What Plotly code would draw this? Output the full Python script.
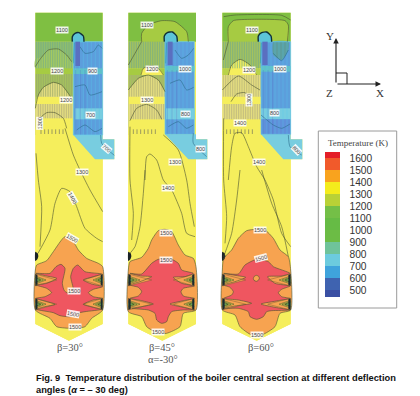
import plotly.graph_objects as go

# ---- Units: one third of a picture pixel. Panel 1 uses frame A, panels 2 and 3 use frame B.
W, H = 420, 396
GREEN = "#7FBF42"; LIME = "#A6CB42"; YEL = "#F5EE5C"; ORG = "#F7A350"; RED = "#EF5660"
HGRN = "#90BE6C"; HYEL = "#E4DD80"; HLIME = "#A5C25E"; BLUE = "#5C9EDC"; CYAN = "#78CDE0"
NOZ = "#5A6FC0"; DARK = "#4A5230"; DEEP = "#2C6C8C"

# ---- Panel outlines
P1_OUT = [(16,38),(218,38),(218,418),(253,418),(253,478),(218,478),(218,972),(117,1022),(16,972)]
P2_OUT = [(10,38),(213,38),(213,418),(247,418),(247,478),(213,478),(213,972),(112,1022),(10,972)]
P3_OUT = [(292,38),(497,38),(497,418),(532,418),(532,478),(497,478),(497,972),(395,1022),(292,972)]

# ---- Panel 1 regions
P1_TOP = [(16,38),(218,38),(218,125),(16,125)]
P1_H1 = [(16,125),(130,125),(130,205),(16,205)]
P1_DOME1 = [(16,205),(16,178),(35,170),(55,150),(85,147),(110,165),(130,188),(130,205)]
P1_BAND1 = [(16,205),(130,205),(130,222),(16,222)]
P1_H2 = [(16,222),(130,222),(130,405),(16,405)]
P1_DOME2 = [(16,325),(25,285),(40,262),(70,247),(95,255),(125,295),(130,312),(130,405),(16,405)]
P1_BAND2 = [(22,290),(130,292),(130,312),(16,312)]
P1_BASE = [(22,355),(130,355),(130,405),(218,478),(218,972),(117,1022),(16,972),(16,390)]
P1_BLUE = [(130,125),(218,125),(218,405),(130,405)]
P1_B1 = [(130,205),(218,205),(218,222),(130,222)]
P1_B2 = [(135,325),(218,325),(218,358),(135,358)]
P1_SHELF = [(130,405),(218,405),(218,418),(253,418),(253,478),(195,478)]
P1_NOZ = [(136,125),(150,125),(150,198),(136,198)]
P1_CAP = [(127,125),(127,110),(135,100),(147,98),(160,108),(162,125)]
P1_ORG = [(105,710),(70,755),(50,782),(20,795),(16,810),(16,930),(60,955),(80,980),(130,985),(165,980),(185,955),(218,930),(218,800),(205,790),(170,775),(145,750),(130,725)]
P1_RED = [(18,820),(60,820),(78,800),(93,793),(105,805),(97,850),(103,872),(120,882),(130,870),(122,830),(130,805),(143,795),(165,815),(215,822),(190,830),(160,840),(185,852),(218,860),(190,868),(175,878),(190,890),(218,895),(190,900),(160,913),(190,922),(215,928),(165,935),(140,940),(120,950),(90,947),(70,938),(20,928),(45,920),(75,913),(50,905),(18,895),(45,890),(65,878),(50,865),(18,855),(50,850),(80,835),(50,828)]
P1_L = [
 [(16,200),(30,178),(55,150),(85,147),(110,165),(125,185)],
 [(16,325),(25,285),(40,262),(70,247),(95,255),(125,295)],
 [(22,385),(30,355),(50,338),(75,338),(100,355),(110,385)],
 [(105,385),(130,465),(150,510),(180,570),(218,635)],
 [(18,460),(25,540),(35,620),(30,740)],
 [(24,760),(60,690),(75,610),(95,565),(120,575),(140,620),(165,685),(200,715),(218,725)],
]
P1_LB = [
 [(212,405),(215,430),(240,455),(253,466)],
 [(150,140),(165,160),(190,155),(205,135),(216,145)],
 [(135,260),(165,255),(180,285),(216,275)],
 [(140,390),(165,375),(195,395),(216,385)],
]
P1_LAB = [("1100",96,89,0),("1200",82,214,0),("900",186,214,0),("1200",108,300,0),("700",180,345,0),("1300",30,370,-90),("700",228,445,40),("1300",157,515,0),("1400",127,595,60),("1500",125,715,30),("1500",133,873,0),("1500",130,942,10),("1500",135,980,0)]

# ---- Panel 2 regions
P2_TOP = [(10,38),(213,38),(213,125),(10,125)]
P2_ARCH = [(50,125),(50,100),(70,75),(110,62),(150,65),(185,95),(190,125)]
P2_H1 = [(10,125),(120,125),(120,205),(10,205)]
P2_DOME1 = [(48,225),(55,205),(80,197),(100,205),(115,225)]
P2_BAND1 = [(10,205),(120,205),(120,225),(10,225)]
P2_H2 = [(10,225),(120,225),(120,405),(10,405)]
P2_DOME2 = [(10,270),(40,235),(70,225),(100,240),(120,275),(120,405),(10,405)]
P2_BAND2 = [(12,290),(120,290),(120,312),(12,312)]
P2_BASE = [(15,358),(120,358),(120,403),(190,478),(213,478),(213,972),(112,1022),(10,972),(10,390)]
P2_BLUE = [(120,125),(208,125),(208,403),(120,403)]
P2_B1 = [(120,198),(208,198),(208,215),(120,215)]
P2_B2 = [(123,325),(208,325),(208,358),(123,358)]
P2_SHELF = [(120,403),(213,403),(213,418),(247,418),(247,478),(190,478)]
P2_NOZ = [(128,125),(143,125),(143,195),(128,195)]
P2_CAP = [(118,125),(118,108),(127,98),(142,96),(155,108),(157,125)]
P2_ORG = [(100,692),(80,720),(70,745),(50,772),(15,785),(10,810),(10,935),(50,950),(65,980),(100,1000),(125,1000),(165,980),(175,940),(213,930),(213,800),(205,775),(180,765),(160,735),(140,695),(120,688)]
P2_RED = [(15,820),(50,822),(80,790),(100,778),(140,778),(160,790),(170,810),(205,820),(180,830),(145,832),(170,850),(208,858),(175,865),(168,875),(175,888),(208,895),(175,902),(135,912),(175,922),(208,930),(175,930),(140,935),(130,950),(125,965),(110,970),(95,960),(90,940),(70,930),(20,925),(50,920),(85,912),(50,902),(15,895),(40,888),(50,875),(40,862),(15,855),(45,845),(80,830),(50,828)]
P2_L = [
 [(50,125),(50,100),(70,75),(110,62),(150,65),(185,95),(190,125)],
 [(10,195),(30,160),(50,125)],
 [(48,225),(55,205),(80,197),(100,205),(115,225)],
 [(10,270),(40,235),(70,225),(100,240),(120,275)],
 [(15,362),(35,325),(65,313),(95,330),(110,358)],
 [(15,380),(15,540),(25,640),(20,720)],
 [(60,540),(65,470),(75,462),(95,480),(115,540),(140,570),(170,640),(185,700),(210,710)],
 [(115,405),(160,450),(185,540),(195,610),(208,680)],
 [(60,510),(55,580),(45,680),(30,740),(15,760)],
]
P2_LB = [
 [(205,400),(205,430),(245,470)],
 [(150,150),(170,175),(190,165),(206,145)],
 [(135,250),(165,240),(185,270),(206,262)],
 [(130,380),(160,365),(185,385),(205,375)],
]
P2_LAB = [("1100",66,76,0),("1200",82,208,0),("1000",180,207,0),("1300",66,300,0),("800",180,342,0),("800",225,446,0),("1300",150,485,0),("1400",128,563,0),("1500",122,700,0),("1500",122,780,0),("1500",98,995,0)]

# ---- Panel 3 regions
P3_TOP = [(292,38),(497,38),(497,125),(292,125)]
P3_ARCH = [(310,125),(310,80),(325,62),(380,58),(480,62),(490,75),(487,125)]
P3_H1 = [(292,125),(408,125),(408,205),(292,205)]
P3_DOME1 = [(310,225),(320,195),(345,178),(375,195),(395,225)]
P3_BAND1 = [(292,205),(408,205),(408,225),(292,225)]
P3_H2 = [(292,225),(408,225),(408,405),(292,405)]
P3_BASE = [(296,358),(408,358),(408,405),(475,478),(497,478),(497,972),(395,1022),(292,972),(292,390)]
P3_BAND2 = [(292,290),(408,290),(408,312),(292,312)]
P3_BLUE = [(408,125),(497,125),(497,403),(408,403)]
P3_B1 = [(408,198),(497,198),(497,215),(408,215)]
P3_B2 = [(408,325),(497,325),(497,358),(408,358)]
P3_B3 = [(408,358),(497,358),(497,403),(408,403)]
P3_TEAL = [(445,125),(490,125),(490,150),(470,180),(445,165)]
P3_SHELF = [(408,403),(497,403),(497,418),(532,418),(532,478),(475,478)]
P3_NOZ = [(412,125),(428,125),(428,195),(412,195)]
P3_CAP = [(400,125),(400,108),(410,98),(425,96),(438,108),(440,125)]
P3_ORG = [(395,688),(365,692),(340,715),(320,750),(296,775),(292,810),(292,930),(330,945),(345,980),(380,1005),(410,1005),(450,980),(465,940),(497,930),(497,810),(490,770),(465,750),(445,715),(420,690)]
P3_RED = [(296,820),(340,822),(360,795),(395,778),(430,785),(445,800),(495,820),(470,828),(428,830),(450,850),(495,858),(470,868),(460,878),(470,890),(495,895),(460,902),(408,912),(450,922),(495,930),(440,932),(425,935),(415,950),(395,958),(375,950),(370,935),(340,925),(300,925),(330,918),(380,910),(340,900),(296,895),(320,885),(325,875),(315,862),(296,855),(330,845),(362,832),(330,826)]
P3_DOT = [(394,826),(401,829),(403,835),(400,841),(394,844),(387,841),(385,835),(388,829)]
P3_L = [
 [(310,125),(310,80),(325,62),(380,58),(480,62),(490,75),(487,125)],
 [(296,50),(330,45),(470,46),(497,60)],
 [(310,125),(295,180)],
 [(310,225),(320,195),(345,178),(375,195),(395,225)],
 [(292,270),(340,228),(380,255),(405,270)],
 [(318,305),(335,282),(360,278),(382,310)],
 [(296,355),(296,540),(305,650),(300,730)],
 [(310,540),(320,440),(330,400),(350,398),(370,440),(395,500),(420,540),(445,600),(470,700),(497,740)],
 [(345,510),(335,600),(320,700),(296,770)],
 [(410,510),(440,610),(470,680),(490,770)],
]
P3_LB = [
 [(408,345),(445,375),(470,385),(495,372)],
 [(445,160),(470,182),(490,150)],
 [(490,405),(495,440),(530,465)],
]
P3_LAB = [("1100",380,90,0),("1200",372,210,0),("1000",465,208,0),("1300",372,300,-90),("800",448,338,0),("1400",345,368,0),("800",515,450,45),("1400",402,487,0),("1500",404,690,0),("1500",408,775,-15),("1500",395,1005,0)]

# ---- Stripe rows and burner ticks
STRIPE_STEP = 7
P1_STRIPE_BANDS = [(16,130,125,205,"#72AE88"),(16,130,222,290,"#97A868"),(22,130,312,355,"#B0AB78")]
P2_STRIPE_BANDS = [(10,120,125,205,"#72AE88"),(10,120,225,290,"#AEAE72"),(15,120,312,358,"#B0AB78")]
P3_STRIPE_BANDS = [(292,408,125,205,"#72AE88"),(292,408,225,290,"#B6B278"),(296,408,312,358,"#B3AE7C")]
P1_BLUE_BAND = (130,218,125,405)
P2_BLUE_BAND = (120,208,125,403)
P3_BLUE_BAND = (408,497,125,403)
P1_TICKS = (28,100,388,402)
P2_TICKS = (20,100,388,402)
P3_TICKS = (300,385,388,402)

# ---- Burner walls: (left wall, right wall, spike reach left, spike reach right)
P1_BURN = (16,218,80,160)
P2_BURN = (10,208,80,145)
P3_BURN = (292,497,362,428)
BURNER_ROWS = [(822,858),(895,930)]
BLOB_SHAPE = [(0,0),(7,5),(9,14),(6,23),(0,28)]
BLOB_ROWS = [(16,755),(10,755),(292,755)]

# ---- Legend
LEGEND_TICKS = [1600,1500,1400,1300,1200,1100,1000,900,800,700,600,500]
LEGEND_COLORS = ["#3A4FA3","#3F63B0","#3FA3DC","#6CCBDE","#6FC39A","#6CBC45","#66BB45","#74BF47","#B9D136","#F4EC1C","#F9A31E","#F15A2B","#E41E28"]
LEGEND_EDGES = [444,500,600,700,800,900,1000,1100,1200,1300,1400,1500,1600,1650]

fig = go.Figure()

def poly(points, color, ax="x", smooth=False):
    xs = [p[0] for p in points] + [points[0][0]]
    ys = [p[1] for p in points] + [points[0][1]]
    fig.add_trace(go.Scatter(x=xs, y=ys, xaxis=ax, yaxis="y", mode="lines", fill="toself", fillcolor=color,
                             line=dict(width=0, color=color, shape="spline" if smooth else "linear", smoothing=0.6),
                             hoverinfo="skip", showlegend=False))

def line(points, color=DARK, width=0.6, ax="x", smooth=True):
    fig.add_trace(go.Scatter(x=[p[0] for p in points], y=[p[1] for p in points], xaxis=ax, yaxis="y", mode="lines",
                             line=dict(width=width, color=color, shape="spline" if smooth else "linear", smoothing=0.6),
                             hoverinfo="skip", showlegend=False))

def stripes(x0, x1, y0, y1, color, ax, width=0.7, step=STRIPE_STEP):
    xs, ys = [], []
    x = x0 + step // 2
    while x < x1:
        xs += [x, x, None]; ys += [y0, y1, None]
        x += step
    fig.add_trace(go.Scatter(x=xs, y=ys, xaxis=ax, yaxis="y", mode="lines", line=dict(width=width, color=color),
                             hoverinfo="skip", showlegend=False))

def burners(spec, ax):
    lw, rw, sl, sr = spec
    for y0, y1 in BURNER_ROWS:
        mid = (y0 + y1) / 2
        for wall, tip in ((lw, sl), (rw, sr)):
            span = tip - wall
            poly([(wall, y0), (tip, mid), (wall, y1)], ORG, ax)
            line([(wall, y0), (tip, mid), (wall, y1)], "#6A4A30", 0.4, ax, False)
            poly([(wall, y0 + 6), (wall + span * 0.5, mid), (wall, y1 - 6)], YEL, ax)
            line([(wall, y0 + 6), (wall + span * 0.5, mid), (wall, y1 - 6)], "#3E4422", 0.5, ax, False)
            line([(wall, y0 + 9), (wall + span * 0.38, mid), (wall, y1 - 9)], "#2A3020", 0.5, ax, False)
            poly([(wall, y0 + 11), (wall + span * 0.26, mid), (wall, y1 - 11)], "#79BE5C", ax)
            line([(wall, y0 + 11), (wall + span * 0.26, mid), (wall, y1 - 11)], "#1E2A18", 0.6, ax, False)
            poly([(wall, y0), (wall + span * 0.1, y0 + 3), (wall + span * 0.1, y1 - 3), (wall, y1)], "#1C2A30", ax)

def panel(ax, outline, layers, hbands, blue_band, ticks, burner, blob, labels, lines, blue_lines, nozzle):
    poly(outline, YEL, ax)
    for pts, col, sm in layers["upper"]:
        poly(pts, col, ax, sm)
    for x0, x1, y0, y1, col in hbands:
        stripes(x0, x1, y0, y1, col, ax)
    for pts, col, sm in layers["blue"]:
        poly(pts, col, ax, sm)
    bx0, bx1, by0, by1 = blue_band
    stripes(bx0, bx1, by0, by1, "rgba(90,200,235,0.5)", ax, 0.7, 12)
    stripes(bx0, bx0 + 40, 210, by1, "rgba(80,90,190,0.3)", ax, 0.8, 14)
    line([(bx0, 125), (bx1, 125), (bx1, by1), (bx0, by1), (bx0, 125)], "#6CCFEA", 0.7, ax, False)
    tx0, tx1, ty0, ty1 = ticks
    stripes(tx0, tx1, ty0, ty1, "#77775C", ax, 0.7, 11)
    for pts, col, sm in layers["lower"]:
        poly(pts, col, ax, sm)
    burners(burner, ax)
    poly([(blob[0] + dx, blob[1] + dy) for dx, dy in BLOB_SHAPE], "#1A2226", ax, True)
    for pts in lines:
        line(pts, ax=ax)
    for pts in blue_lines:
        line(pts, DEEP, ax=ax)
    cap, noz = nozzle
    poly(cap, "#5CC4D8", ax, True)
    line(cap, "#10303A", 1.4, ax)
    poly(noz, NOZ, ax)
    line([(noz[0][0] - 3, 128), (noz[0][0] - 6, 190)], "#30A0B0", 0.7, ax, False)
    for txt, x, y, rot in labels:
        fig.add_annotation(x=x, y=y, xref=ax, yref="y", text=txt, showarrow=False, textangle=rot,
                           font=dict(family="Liberation Sans", size=5.5, color="#444444"),
                           bgcolor="rgba(255,255,255,0.88)", borderpad=0)

panel("x", P1_OUT,
      dict(upper=[(P1_TOP,GREEN,False),(P1_H1,HGRN,False),(P1_DOME1,"#A5C960",True),(P1_BAND1,LIME,False),(P1_H2,HLIME,False),(P1_DOME2,HYEL,False),(P1_BAND2,YEL,False),(P1_BASE,YEL,False)],
           blue=[(P1_SHELF,CYAN,False),(P1_BLUE,BLUE,False),(P1_B1,"#5FC0C8",False),(P1_B2,CYAN,False)],
           lower=[(P1_ORG,ORG,True),(P1_RED,RED,True)]),
      P1_STRIPE_BANDS, P1_BLUE_BAND, P1_TICKS, P1_BURN, BLOB_ROWS[0], P1_LAB,
      P1_L + [P1_ORG + [P1_ORG[0]], P1_RED + [P1_RED[0]]], P1_LB, (P1_CAP, P1_NOZ))
panel("x2", P2_OUT,
      dict(upper=[(P2_TOP,GREEN,False),(P2_ARCH,LIME,True),(P2_H1,HLIME,False),(P2_BAND1,LIME,False),(P2_DOME1,YEL,True),(P2_H2,HLIME,False),(P2_DOME2,HYEL,False),(P2_BAND2,YEL,False),(P2_BASE,YEL,False)],
           blue=[(P2_SHELF,CYAN,False),(P2_BLUE,BLUE,False),(P2_B1,"#5FC0C8",False),(P2_B2,CYAN,False)],
           lower=[(P2_ORG,ORG,True),(P2_RED,RED,True)]),
      P2_STRIPE_BANDS, P2_BLUE_BAND, P2_TICKS, P2_BURN, BLOB_ROWS[1], P2_LAB,
      P2_L + [P2_ORG + [P2_ORG[0]], P2_RED + [P2_RED[0]]], P2_LB, (P2_CAP, P2_NOZ))
panel("x2", P3_OUT,
      dict(upper=[(P3_TOP,GREEN,False),(P3_ARCH,LIME,True),(P3_H1,HLIME,False),(P3_BAND1,"#B9D24A",False),(P3_DOME1,YEL,True),(P3_H2,HYEL,False),(P3_BAND2,YEL,False),(P3_BASE,YEL,False)],
           blue=[(P3_SHELF,CYAN,False),(P3_BLUE,BLUE,False),(P3_TEAL,"#5B9E9E",True),(P3_B1,"#5FC0C8",False),(P3_B2,CYAN,False),(P3_B3,"#5F90DA",False)],
           lower=[(P3_ORG,ORG,True),(P3_RED,RED,True),(P3_DOT,ORG,True)]),
      P3_STRIPE_BANDS, P3_BLUE_BAND, P3_TICKS, P3_BURN, BLOB_ROWS[2], P3_LAB,
      P3_L + [P3_ORG + [P3_ORG[0]], P3_RED + [P3_RED[0]], P3_DOT + [P3_DOT[0]]], P3_LB, (P3_CAP, P3_NOZ))

# ---- Legend as a real colour bar
lo, hi = LEGEND_EDGES[0], LEGEND_EDGES[-1]
scale = []
for i, col in enumerate(LEGEND_COLORS):
    scale += [[(LEGEND_EDGES[i] - lo) / (hi - lo), col], [(LEGEND_EDGES[i + 1] - lo) / (hi - lo), col]]
fig.add_trace(go.Scatter(x=[-5000], y=[-5000], xaxis="x", yaxis="y", mode="markers", hoverinfo="skip", showlegend=False,
                         marker=dict(size=1, color=[1000], cmin=lo, cmax=hi, colorscale=scale, showscale=True,
                                     colorbar=dict(x=325.3 / W, xanchor="left", y=1 - 224.6 / H, yanchor="middle", lenmode="pixels", len=145,
                                                   thickness=15, thicknessmode="pixels", xpad=0, ypad=0, outlinewidth=0,
                                                   tickvals=LEGEND_TICKS, ticks="outside", ticklen=8, tickcolor="rgba(255,255,255,0)",
                                                   tickfont=dict(family="Liberation Sans", size=10.2, color="#333333")))))

fig.add_shape(type="rect", xref="paper", yref="paper", x0=318.3 / W, x1=396.7 / W, y0=1 - 308 / H, y1=1 - 131 / H,
              line=dict(color="#9A9A9A", width=1), fillcolor="rgba(0,0,0,0)", layer="below")

def text(s, x, y, size, family="Liberation Serif", color="#444444", anchor="center", bold=False):
    fig.add_annotation(x=x / W, y=1 - y / H, xref="paper", yref="paper", text=f"<b>{s}</b>" if bold else s, showarrow=False,
                       xanchor=anchor, yanchor="middle", font=dict(family=family, size=size, color=color))

text("Temperature (K)", 357.5, 143, 9)
text("β=30°", 70, 347, 10.5, color="#555555")
text("β=45°", 161.7, 347, 10.5, color="#555555")
text("α=-30°", 163, 359.5, 10.5, color="#555555")
text("β=60°", 260.7, 347, 10.5, color="#555555")
text("Y", 330, 36, 11, color="#333333")
text("Z", 329.5, 93, 11, color="#333333")
text("X", 379.5, 93, 11, color="#333333")
text("Fig. 9  Temperature distribution of the boiler central section at different deflection", 34, 378, 9.3, "Liberation Sans", "#111111", "left", True)
text("angles (<i>α</i> = – 30 deg)", 34, 390, 9.3, "Liberation Sans", "#111111", "left", True)

# ---- Axis triad
for tip, tail in (((336, 38), (0, 46)), ((381, 84), (-45, 0))):
    fig.add_annotation(x=tip[0] / W, y=1 - tip[1] / H, ax=tail[0], ay=tail[1], xref="paper", yref="paper", axref="pixel", ayref="pixel",
                       text="", showarrow=True, arrowhead=2, arrowsize=1, arrowwidth=1.1, arrowcolor="#222222")
fig.add_shape(type="path", xref="paper", yref="paper", path=f"M {336/W} {1-73/H} L {347/W} {1-73/H} L {347/W} {1-84/H}",
              line=dict(color="#222222", width=1))

axis = dict(visible=False, fixedrange=True)
fig.update_layout(width=W, height=H, margin=dict(l=0, r=0, t=0, b=0), paper_bgcolor="white", plot_bgcolor="white", showlegend=False,
                  xaxis=dict(range=[-90, 1170], domain=[0, 1], **axis),
                  xaxis2=dict(range=[-375, 885], domain=[0, 1], overlaying="x", **axis),
                  yaxis=dict(range=[1188, 0], domain=[0, 1], **axis))
fig.write_html("out.html", config={"displayModeBar": False},
               post_script="document.body.style.margin='0';document.body.style.overflow='hidden';")
